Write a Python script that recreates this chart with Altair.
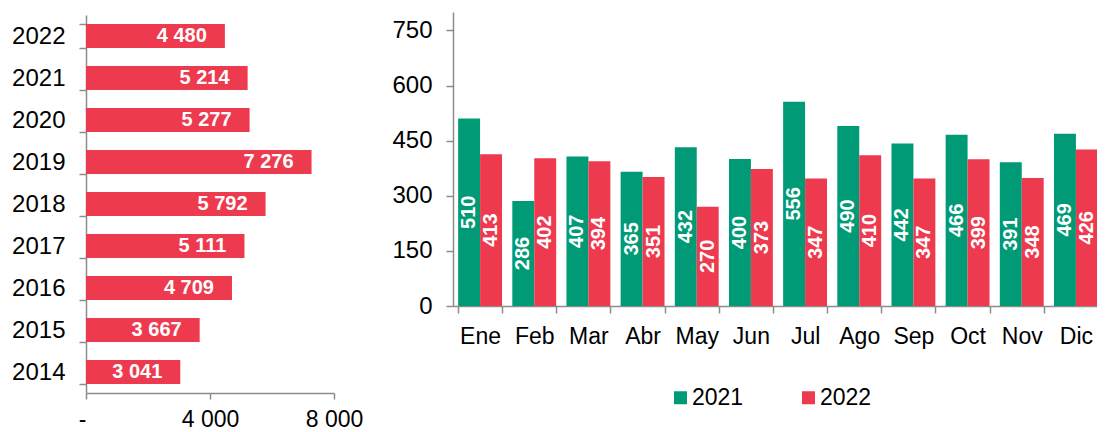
import altair as alt
import pandas as pd

# ---- data ----
years = ["2014", "2015", "2016", "2017", "2018", "2019", "2020", "2021", "2022"]
totals = [3041, 3667, 4709, 5111, 5792, 7276, 5277, 5214, 4480]

months = ["Ene", "Feb", "Mar", "Abr", "May", "Jun", "Jul", "Ago", "Sep", "Oct", "Nov", "Dic"]
series = ["2021", "2022"]
v2021 = [510, 286, 407, 365, 432, 400, 556, 490, 442, 466, 391, 469]
v2022 = [413, 402, 394, 351, 270, 373, 347, 410, 347, 399, 348, 426]

left_ticks = [0, 4000, 8000]
right_ticks = [0, 150, 300, 450, 600, 750]

GREEN = "#009A77"
RED = "#EE3A4F"
FONT = "Liberation Sans"
AXIS_GRAY = "#8c8c8c"

left_df = pd.DataFrame({"year": years, "total": totals})
right_df = pd.DataFrame({
    "month": months * 2,
    "serie": [series[0]] * len(months) + [series[1]] * len(months),
    "value": v2021 + v2022,
})

common = dict(labelFont=FONT, labelColor="#000000",
              domainColor=AXIS_GRAY, tickColor=AXIS_GRAY, domainWidth=1.5,
              tickWidth=1.5, grid=False, title=None)

# ---- left chart ----
y_left = alt.Y("year:N", sort=years[::-1],
               scale=alt.Scale(range=[3, 381], paddingInner=0.43, paddingOuter=0.215),
               axis=alt.Axis(tickBand="extent", tickSize=7, labelPadding=14, labelFontSize=24, **common))
x_left = alt.X("total:Q", scale=alt.Scale(domain=[0, 8000], nice=False),
               axis=alt.Axis(values=left_ticks, tickSize=6, labelPadding=9, labelFlush=False,
                             labelFontSize=23,
                             labelExpr="datum.value == 0 ? '-' : replace(format(datum.value, ','), ',', ' ')",
                             labelAlign={"condition": {"test": "datum.value == 0", "value": "right"}, "value": "center"},
                             **common))

left_base = alt.Chart(left_df).transform_calculate(
    label="replace(format(datum.total, ','), ',', ' ')"
)
left_bars = left_base.mark_bar(color=RED).encode(x=x_left, y=y_left)
left_text = left_base.mark_text(align="right", baseline="middle", dx=-18, color="white",
                                fontWeight="bold", fontSize=20, font=FONT).encode(
    x=x_left, y=y_left, text="label:N")
left = alt.layer(left_bars, left_text).properties(width=248, height=381)

# ---- right chart ----
x_right = alt.X("month:N", sort=months,
                scale=alt.Scale(paddingInner=0.19, paddingOuter=0.095),
                axis=alt.Axis(tickBand="extent", tickSize=7, labelPadding=12, labelAngle=0,
                              labelFontSize=23, **common))
y_scale = alt.Scale(domain=[0, 800], nice=False)
y_axis = alt.Axis(values=right_ticks, tickSize=7, labelPadding=14, labelFontSize=24, **common)
xoff = alt.XOffset("serie:N", sort=series)

right_base = alt.Chart(right_df).transform_calculate(half="datum.value / 2")
right_bars = right_base.mark_bar().encode(
    x=x_right, xOffset=xoff,
    y=alt.Y("value:Q", scale=y_scale, axis=y_axis),
    color=alt.Color("serie:N", scale=alt.Scale(domain=series, range=[GREEN, RED]),
                    legend=alt.Legend(orient="none", legendX=216, legendY=374,
                                      direction="horizontal", title=None,
                                      symbolType="square", symbolSize=169,
                                      symbolStrokeWidth=0, labelFont=FONT,
                                      labelFontSize=23, labelColor="#000000",
                                      labelOffset=0, columnPadding=53)),
)
right_text = right_base.mark_text(angle=270, align="center", baseline="middle",
                                  color="white", fontWeight="bold", fontSize=20,
                                  font=FONT).encode(
    x=x_right, xOffset=xoff,
    y=alt.Y("half:Q", scale=y_scale, axis=y_axis),
    text="value:Q",
)
right = alt.layer(right_bars, right_text).properties(width=650, height=294)

chart = alt.hconcat(left, right, spacing=119, bounds="flush").resolve_legend(
    color="independent"
).properties(
    padding={"left": 3, "top": -8, "right": -6, "bottom": 0}
).configure(font=FONT).configure_view(strokeWidth=0, stroke="transparent")

chart.save("out.html", embed_options={"renderer": "svg", "actions": False})
